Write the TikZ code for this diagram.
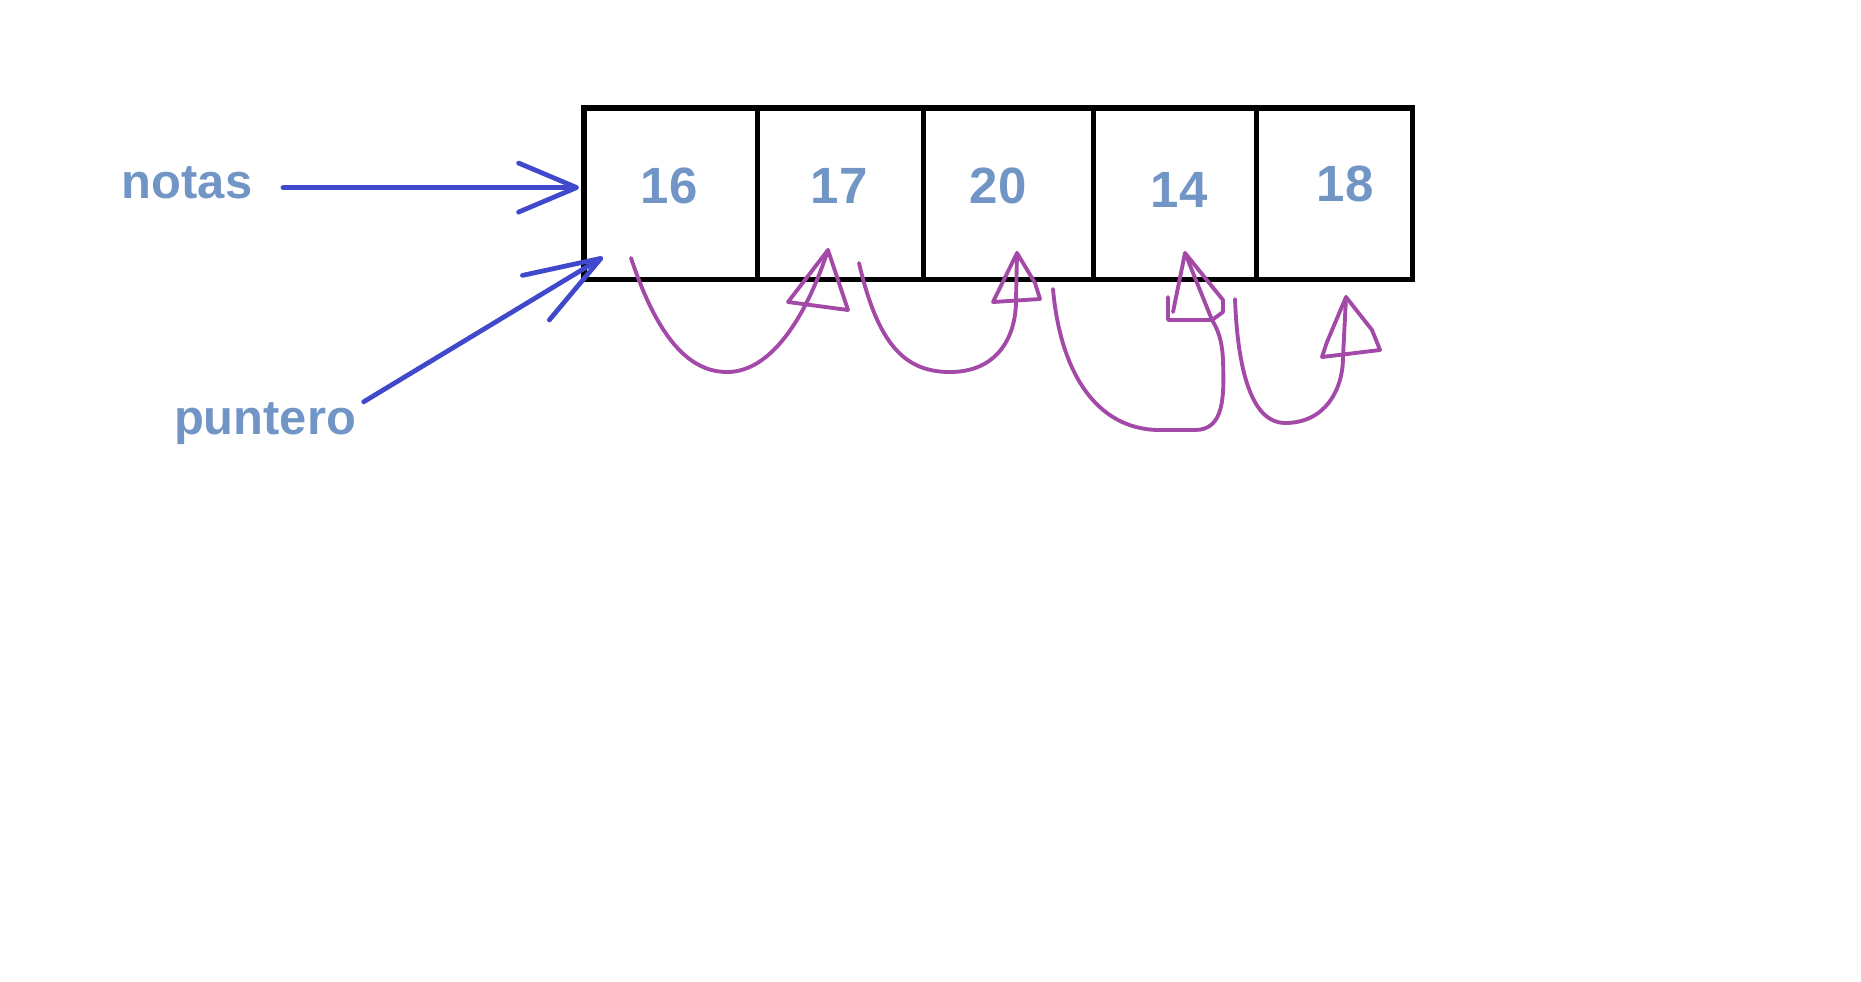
\documentclass[tikz,border=0pt]{standalone}
\usepackage{fontspec}
\setsansfont{Liberation Sans}
\usetikzlibrary{arrows.meta,positioning,calc}
\definecolor{lblcol}{RGB}{113,149,196}
\definecolor{ptrcol}{RGB}{64,72,204}
\definecolor{jumpcol}{RGB}{163,73,167}

\begin{document}
\begin{tikzpicture}[
  x=0.01cm, y=-0.01cm, % pixel grid, y runs down
  font=\sffamily\bfseries,
  cell/.style={
    draw,
    line width=1.45pt,
    minimum height=1.71cm,
    inner sep=0pt,
    outer sep=0pt
  },
  num/.style={text=lblcol, inner sep=0pt, font=\sffamily\bfseries\fontsize{14.5}{17}\selectfont},
  lbl/.style={text=lblcol, inner sep=0pt, font=\sffamily\bfseries\fontsize{13.9}{16}\selectfont},
  ptr/.style={line width=1.35pt, color=ptrcol, line cap=round,
    -{Straight Barb[length=0.58cm,width=0.49cm,round]}},
  jump/.style={line width=1.1pt, color=jumpcol, line join=round, line cap=round}
]
\useasboundingbox (0,0) rectangle (1861,981);

% ========== Array ==========
\node[cell, minimum width=1.73cm, anchor=north west] (c1) at (584,108) {};
\node[cell, minimum width=1.66cm, right=0pt of c1] (c2) {};
\node[cell, minimum width=1.70cm, right=0pt of c2] (c3) {};
\node[cell, minimum width=1.63cm, right=0pt of c3] (c4) {};
\node[cell, minimum width=1.56cm, right=0pt of c4] (c5) {};

\node[num] (n1) at (669,186) {16};
\node[num] (n2) at (839,186) {17};
\node[num] (n3) at (998,186) {20};
\node[num] (n4) at (1179,190) {14};
\node[num] (n5) at (1345,184) {18};

% ========== Pointers ==========
\node[lbl] (notas) at (187,182.5) {notas};
\node[lbl] (puntero) at (265,423.5) {puntero};

\draw[ptr, shorten <=0.3cm] ($(notas.east)+(0,5)$) -- ($(c1.west)+(-5,-6)$);
\draw[ptr, -{Straight Barb[length=0.76cm,width=0.52cm,round]}]
  ($(puntero.north east)+(7,0)$) -- ($(c1.south west)+(19,-22)$);

% ========== Jumps (puntero++) ==========
\coordinate (s1) at (631,258);  \coordinate (t1) at (828,250);
\coordinate (s2) at (859,263);  \coordinate (t2) at (1017,253);
\coordinate (s3) at (1053,289); \coordinate (t3) at (1185,253);
\coordinate (s4) at (1235,299); \coordinate (t4) at (1346,297);

\draw[jump] (s1) .. controls (655,330) and (685,372) .. (727,372)
  .. controls (770,372) and (805,320) .. (t1);
\draw[jump] (t1) -- (788,302) -- (848,310) -- cycle;

\draw[jump] (s2) .. controls (878,345) and (905,372) .. (950,372)
  .. controls (995,372) and (1016,340) .. (1016,300) -- (t2);
\draw[jump] (t2) -- (993,302) -- (1040,299) -- (1035,283) -- cycle;

\draw[jump] (s3) .. controls (1060,370) and (1095,430) .. (1160,430) -- (1195,430)
  .. controls (1225,430) and (1224,395) .. (1223,360)
  .. controls (1222,340) and (1218,330) .. (1212,320) -- (t3);
\draw[jump] (1173,312) -- (t3) -- (1223,300) -- (1223,312) -- (1212,320)
  -- (1168,320) -- (1168,297);

\draw[jump] (s4) .. controls (1238,380) and (1255,423) .. (1285,423)
  .. controls (1325,423) and (1343,390) .. (1343,357) -- (t4);
\draw[jump] (t4) -- (1327,342) -- (1322,357) -- (1380,350) -- (1372,330) -- cycle;

\end{tikzpicture}
\end{document}
